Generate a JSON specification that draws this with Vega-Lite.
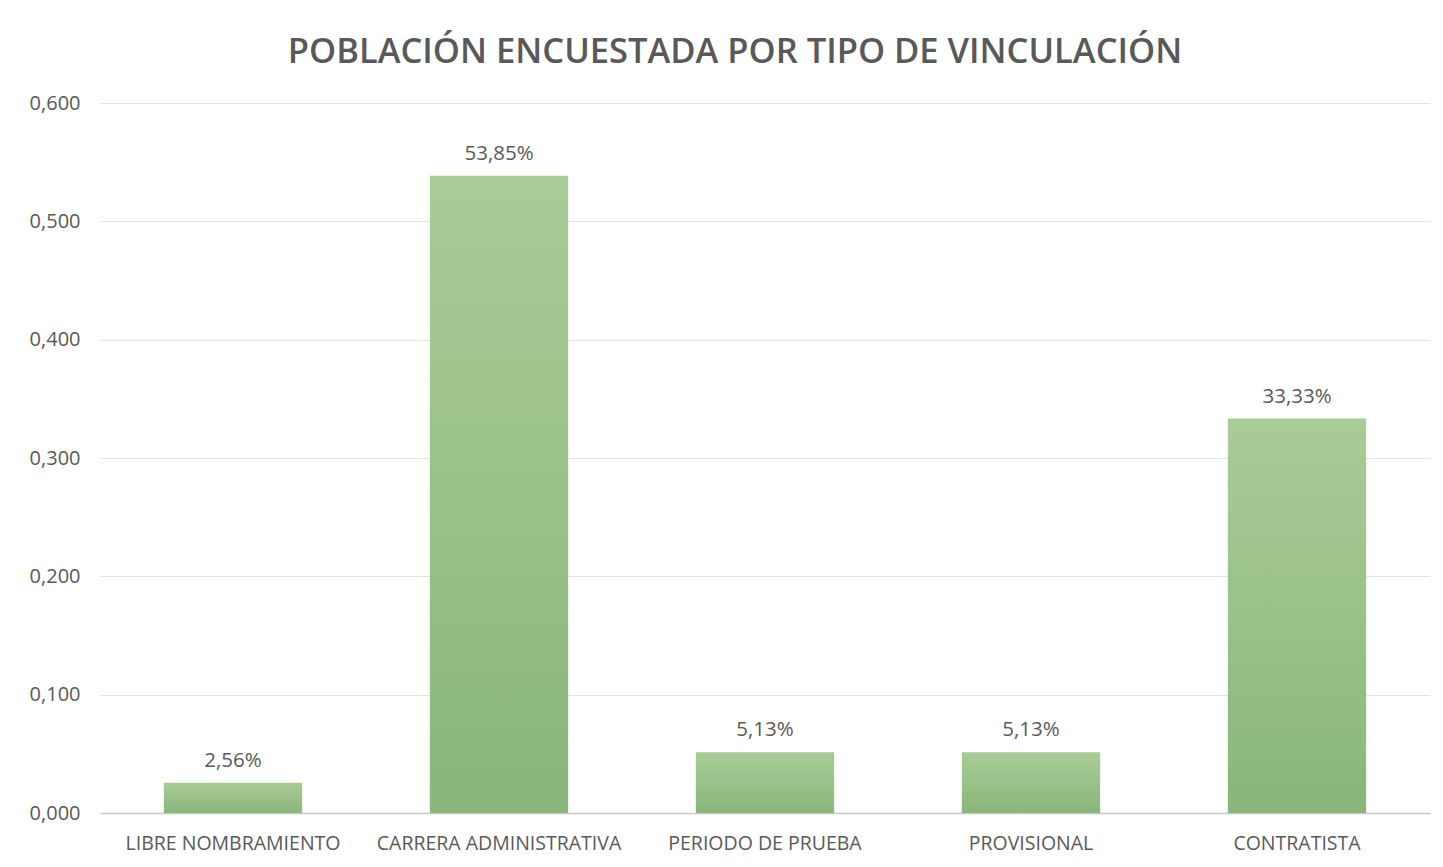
{
  "$schema": "https://vega.github.io/schema/vega-lite/v6.json",
  "autosize": "none",
  "width": 1330,
  "height": 710,
  "padding": {"left": 100, "top": 103, "right": 13, "bottom": 54},
  "background": "white",
  "title": {
    "text": "POBLACIÓN ENCUESTADA POR TIPO DE VINCULACIÓN",
    "anchor": "middle",
    "frame": "group",
    "dx": -30,
    "offset": 23,
    "font": "Open Sans",
    "fontSize": 34.5,
    "fontWeight": 600,
    "color": "#595959"
  },
  "config": {
    "locale": {"number": {"decimal": ",", "thousands": ".", "grouping": [3], "currency": ["", "€"]}},
    "view": {"stroke": null},
    "font": "Open Sans"
  },
  "data": {
    "values": [
      {"tipo": "LIBRE NOMBRAMIENTO", "valor": 0.0256},
      {"tipo": "CARRERA ADMINISTRATIVA", "valor": 0.5385},
      {"tipo": "PERIODO DE PRUEBA", "valor": 0.0513},
      {"tipo": "PROVISIONAL", "valor": 0.0513},
      {"tipo": "CONTRATISTA", "valor": 0.3333}
    ]
  },
  "encoding": {
    "x": {
      "field": "tipo",
      "type": "nominal",
      "sort": null,
      "scale": {"paddingInner": 0.48, "paddingOuter": 0.24},
      "axis": {
        "title": null,
        "labelAngle": 0,
        "labelFontSize": 19.5,
        "labelColor": "#595959",
        "labelPadding": 21,
        "labelLimit": 400,
        "ticks": false,
        "domainColor": "#c8c8c8",
        "domainWidth": 1.5,
        "labelFont": "Open Sans"
      }
    },
    "y": {
      "field": "valor",
      "type": "quantitative",
      "scale": {"domain": [0, 0.6], "nice": false},
      "axis": {
        "title": null,
        "format": ".3f",
        "values": [0, 0.1, 0.2, 0.3, 0.4, 0.5, 0.6],
        "labelFontSize": 20,
        "labelColor": "#595959",
        "labelPadding": 20,
        "ticks": false,
        "domain": false,
        "gridColor": "#e3e3e3",
        "gridWidth": 1.2,
        "labelFont": "Open Sans"
      }
    }
  },
  "layer": [
    {
      "mark": {
        "type": "bar",
        "color": {
          "gradient": "linear",
          "x1": 0, "y1": 0, "x2": 0, "y2": 1,
          "stops": [
            {"offset": 0, "color": "#a9cc97"},
            {"offset": 1, "color": "#8ab679"}
          ]
        }
      }
    },
    {
      "mark": {"type": "text", "dy": -22, "fontSize": 20.5, "color": "#595959", "font": "Open Sans"},
      "encoding": {"text": {"field": "valor", "type": "quantitative", "format": ".2%"}}
    }
  ]
}
